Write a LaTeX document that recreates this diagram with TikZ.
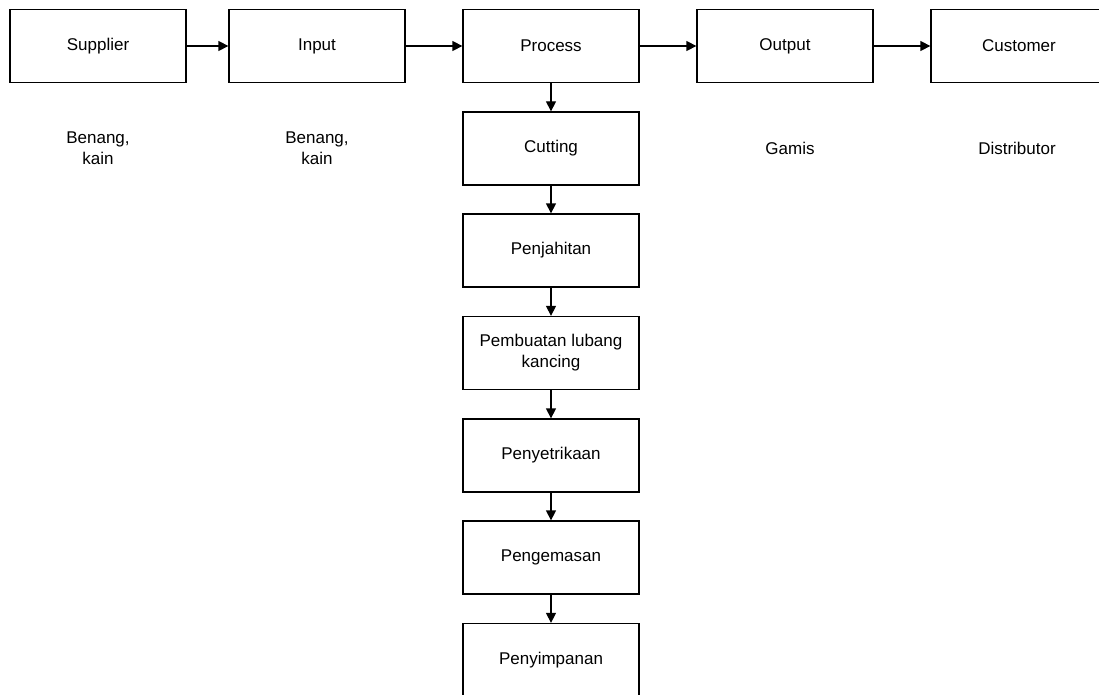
\documentclass[tikz,border=0pt]{standalone}
\usepackage{fontspec}
\setmainfont{Liberation Sans}
\usetikzlibrary{arrows.meta}

\begin{document}
\begin{tikzpicture}[x=1pt,y=-1pt,
    box/.style={draw,line width=1.3pt,minimum width=176pt,minimum height=73pt,
      align=center,inner sep=2pt,font=\fontsize{17}{21}\selectfont},
    note/.style={align=center,font=\fontsize{17}{21}\selectfont},
    flow/.style={-{Triangle[length=10pt,width=10pt]},line width=1.3pt}]
    \useasboundingbox (0,0) rectangle (1099,695);

    % Top row
    \node[box] (supplier) at (98,46) {Supplier};
    \node[box] (input) at (317,46) {Input};
    \node[box] (process) at (551,46) {Process};
    \node[box] (output) at (785,46) {Output};
    \node[box] (customer) at (1019,46) {Customer};

    % Notes below the top row
    \node[note] (supplierNote) at (98,148) {Benang,\\kain};
    \node[note] (inputNote) at (317,148) {Benang,\\kain};
    \node[note] (outputNote) at (790,148) {Gamis};
    \node[note] (customerNote) at (1017,148) {Distributor};

    % Process steps
    \node[box] (cutting) at (551,148.5) {Cutting};
    \node[box] (jahit) at (551,250.5) {Penjahitan};
    \node[box] (lubang) at (551,353) {Pembuatan lubang\\kancing};
    \node[box] (setrika) at (551,455.5) {Penyetrikaan};
    \node[box] (kemas) at (551,557.5) {Pengemasan};
    \node[box] (simpan) at (551,660) {Penyimpanan};

    % Arrows along the top row
    \draw[flow] (supplier) -- (input);
    \draw[flow] (input) -- (process);
    \draw[flow] (process) -- (output);
    \draw[flow] (output) -- (customer);

    % Arrows down the process
    \draw[flow] (process) -- (cutting);
    \draw[flow] (cutting) -- (jahit);
    \draw[flow] (jahit) -- (lubang);
    \draw[flow] (lubang) -- (setrika);
    \draw[flow] (setrika) -- (kemas);
    \draw[flow] (kemas) -- (simpan);

  \end{tikzpicture}
\end{document}
